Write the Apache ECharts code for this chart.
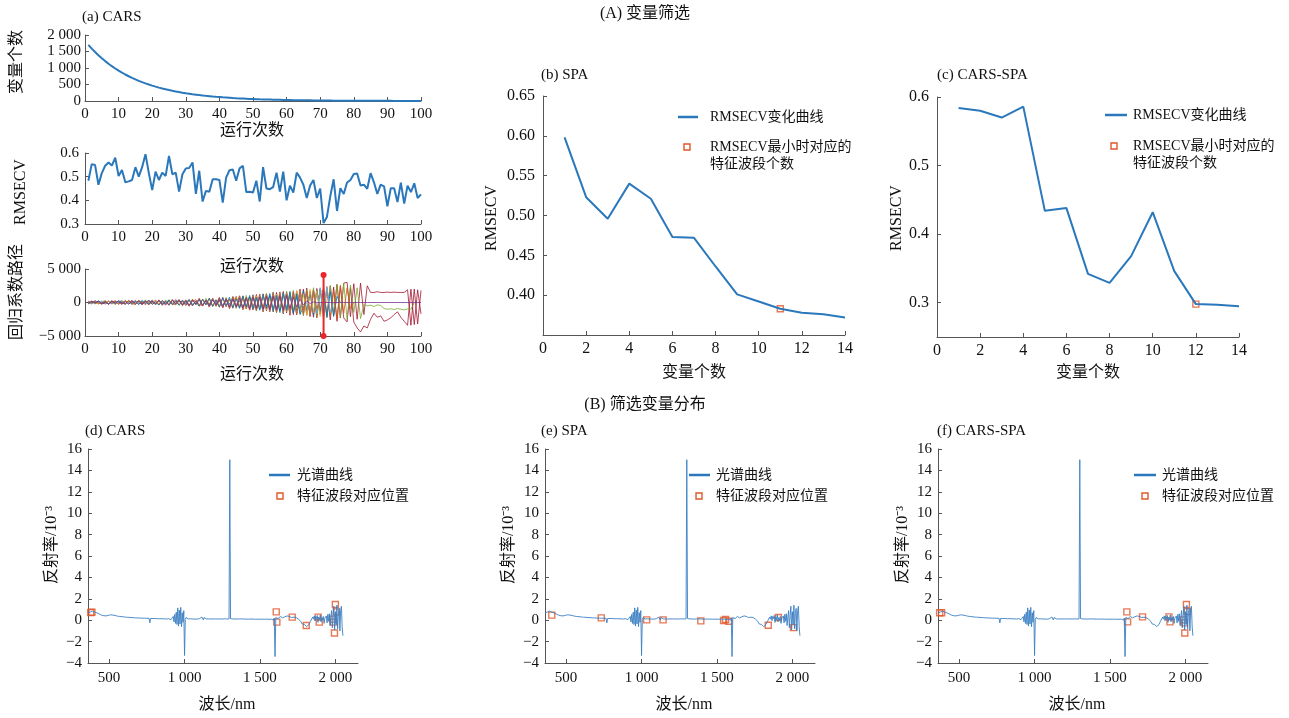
<!DOCTYPE html>
<html><head><meta charset="utf-8">
<script src="https://cdn.jsdelivr.net/npm/echarts@6/dist/echarts.min.js"></script>
<style>html,body{margin:0;padding:0;background:#fff}#c{width:1289px;height:718px}</style>
</head><body><div id="c"></div>
<script>
// ---------- (a) CARS: number of retained variables per run ----------
const runVarCount = [1700,1588,1483,1386,1294,1209,1129,1055,985,920,860,803,750,701,655,611,571,533,498,465,
435,406,379,354,331,309,289,270,252,235,220,205,192,179,167,156,146,136,127,119,
111,104,97,90,84,79,74,69,64,60,56,52,49,46,43,40,37,35,33,30,
28,26,25,23,21,20,19,17,16,15,14,13,12,11,11,10,9,9,8,8,
7,7,6,6,5,5,5,4,4,4,4,3,3,3,3,3,2,2,2,2];

// ---------- (a) CARS: RMSECV per run ----------
const runRmsecv = [0.483,0.553,0.549,0.466,0.515,0.546,0.560,0.547,0.580,0.503,
0.528,0.476,0.480,0.486,0.540,0.500,0.540,0.595,0.515,0.443,
0.521,0.486,0.517,0.503,0.588,0.510,0.517,0.437,0.510,0.535,
0.537,0.560,0.427,0.525,0.395,0.440,0.436,0.489,0.489,0.486,
0.390,0.496,0.527,0.530,0.483,0.535,0.546,0.435,0.436,0.433,
0.483,0.395,0.540,0.450,0.447,0.456,0.517,0.437,0.521,0.400,
0.462,0.433,0.517,0.496,0.466,0.410,0.463,0.486,0.410,0.450,
0.304,0.330,0.417,0.489,0.355,0.451,0.427,0.475,0.486,0.511,
0.513,0.463,0.466,0.449,0.515,0.476,0.427,0.466,0.459,0.375,
0.451,0.451,0.393,0.475,0.386,0.462,0.435,0.472,0.410,0.425];

// ---------- (a) CARS: regression coefficient paths (one array per variable) ----------
const pathA = [120,-80,210,40,-150,-60,180,-220,90,-30,250,-140,60,-260,180,30,-200,260,-90,140,
-240,310,-50,-180,290,-320,120,260,-300,80,350,-280,-60,380,-420,190,-350,460,-160,300,
-480,520,-260,590,-640,210,700,-580,820,-740,560,-900,980,-620,1100,-1050,700,-1250,1300,-900,
1400,-1500,900,-1600,1750,-1200,1500,-1900,1850,-1400,2000,-2200,1600,-2100,900,0];
const pathB = [-90,160,-40,-200,110,230,-170,60,-240,190,-60,280,-210,120,-300,220,-150,40,310,-260,
160,-340,250,-90,380,-200,-330,300,-120,410,-380,150,440,-300,-480,380,-220,520,-560,260,
-620,480,-700,350,760,-820,600,-950,880,-420,-1000,1050,-760,1200,-1150,900,-1350,1420,-1000,1300,
-1600,1250,-1700,1850,-1300,1650,-2000,1500,-1900,2200,-1700,2400,-2200,1800,-2500,2600,-1600,2200,-900,0];
const pathC = [200,-130,60,-210,150,-90,240,-40,-180,120,260,-200,90,-290,170,-60,310,-240,110,-150,
280,-330,200,-70,360,-270,150,-390,310,-200,420,-340,180,-460,390,-250,530,-420,300,-570,
620,-500,380,-700,780,-450,860,-780,520,-950,1000,-820,1150,-1100,700,-1300,1250,-1000,1450,-1350,
1600,-1250,1750,-1650,1300,-1900,2000,-1500,1800,-2100,1200,0];
const pathE = [-150,90,-220,180,-50,260,-190,120,-280,60,-230,300,-120,200,-320,250,-80,330,-270,140,
-360,220,-300,380,-150,420,-350,180,-440,300,-490,380,-250,540,-430,600,-380,650,-560,420,
-700,760,-520,850,-900,640,-980,1050,-700,1150,-1200,880,-1300,1350,-1000,1450,-1500,1200,-1600,1650,
-1400,1800,-1750,1500,-2000,1900,-1600,2200,-2100,1700,1800,-2300,2500,-1800,2700,-2200,2900,-2500,2600,-1500,
2200,-2400,-300,-500,-400,-600,-350,-450,-900,-1000,-950,-1050,-900,-1000,-1100,-950,-1000,0];
const pathF = [60,-240,170,-110,250,-30,-190,210,-140,90,300,-250,40,-310,220,-170,330,-90,-260,280,
-200,370,-330,100,-400,310,-180,440,-360,240,-500,420,-290,560,-470,330,-620,580,-380,680,
-720,540,-800,880,-600,960,-1000,720,-1100,1180,-900,1300,-1250,1000,-1400,1450,-1150,1600,-1550,1300,
-1700,1650,-1400,1850,-1800,1500,-2000,1950,-1700,2150,-2000,2300,-1500,0];
const pathI = [-200,120,-60,230,-170,80,-250,190,-110,270,-40,-220,300,-180,110,-320,240,-130,350,-280,
60,-380,290,-210,410,-340,150,-430,370,-260,460,-410,200,-520,480,-330,600,-560,350,-660,
700,-480,790,-760,560,-880,950,-700,1050,-980,800,-1150,1200,-900,1350,-1300,1050,-1500,1450,-1200,
1650,-1550,1300,-1800,-600,0];
const pathJ = [140,-180,230,-70,-210,160,-260,70,200,-290,120,-240,310,-150,-280,340,-100,270,-350,180,
-300,400,-250,130,-420,360,-190,450,-400,210,-520,480,-300,570,-540,350,-650,620,-420,720,
-780,600,-860,900,-640,980,-1020,760,-1120,1080,-880,1250,-1200,950,-1400,1380,-1100,1550,-1500,1250,
-1700,1650,-1350,1850,-1800,1550,-2000,1900,-900,0];
const pathG = [180,-100,250,-160,70,-230,200,-60,260,-190,90,-280,240,-130,310,-220,150,-330,270,-80,
360,-290,180,-400,330,-170,430,-370,220,-460,380,-510,260,-560,500,-330,640,-580,420,-700,
760,-640,500,-850,900,-700,1000,-950,720,-1100,1200,-1000,1300,-1250,950,-1400,1500,-1200,1650,-1550,
1300,-1800,1750,-1500,2000,-1900,1700,-2200,2100,-1800,2300,-2000,2500,-1900,2700,-2300,2900,3000,-2100,2800,
-2500,2900,-1800,2500,1500,1500,1600,1500,1500,1550,1500,1550,1500,1500,1500,1900,-3400,2000,-3200,1800];
const pathH = [-160,220,-90,170,-250,60,-210,280,-140,100,-300,230,-70,330,-260,140,-350,200,-110,370,
-310,260,-420,160,-380,450,-240,350,-480,300,-560,420,-330,600,-520,380,-680,560,-450,740,
-800,620,-900,820,-680,1000,-1050,760,-1150,1100,-1250,950,-1400,1300,-1100,1550,-1500,1250,-1700,1600,
-1900,1500,-1850,2000,-1600,2150,-2100,1800,-2300,2000,-2400,2100,-2600,2300,-2800,2400,-2300,-2900,2200,-2900,
-3800,-4400,-3500,-3800,-2500,-1600,-2200,-2000,-2800,-2600,-2300,-1800,-1400,-2200,-2800,-3400,2000,-3300,1900,-1700];
const pathD = [-110,150,-60,190,-140,80,-210,160,-90,230,-170,120,-250,190,-60,270,-200,140,-290,220,
-120,310,-260,180,-340,280,-150,360,-310,230,-400,330,-220,450,-380,300,-500,420,-350,550,
-600,480,-680,540,-720,620,-800,700,-880,760,-900,820,-1000,880,-1050,950,-1100,1000,-1150,1050,
-900,800,-650,500,-350,250,-150,80,-30,10,-5,0,0,0,0,0,0,0,0,0,
0,0,0,0,0,0,0,0,0,0,0,0,0,0,0,0,0,0,0,0];
const coefPaths = [
  {data: pathG, color: '#A2142F'}, {data: pathH, color: '#A2142F'}, {data: pathE, color: '#77AC30'},
  {data: pathA, color: '#0072BD'}, {data: pathB, color: '#D95319'}, {data: pathC, color: '#EDB120'},
  {data: pathF, color: '#4DBEEE'}, {data: pathI, color: '#0072BD'}, {data: pathJ, color: '#D95319'},
  {data: pathD, color: '#7E2F8E'}
];
const bestRun = 71;
const bestRunSpan = [4100, -5000];

// ---------- (b) SPA / (c) CARS-SPA: RMSECV vs number of variables ----------
const nVars = [1,2,3,4,5,6,7,8,9,10,11,12,13,14];
const spaRmsecv = [0.598,0.523,0.496,0.540,0.521,0.473,0.472,0.436,0.401,0.392,0.383,0.378,0.376,0.372];
const csRmsecv  = [0.584,0.580,0.570,0.586,0.434,0.438,0.342,0.329,0.368,0.432,0.346,0.298,0.297,0.295];
const spaBest = 11;
const csBest = 12;

// ---------- (d)(e)(f) reflectance spectrum, 360–2050 nm every 5 nm (unit 10^-3) ----------
const WL_START = 360, WL_STEP = 5;
const spectrum = [
0.70,0.74,0.69,0.76,0.72,0.80,0.85,0.78,0.83,0.76,
0.74,0.70,0.68,0.63,0.60,0.58,0.55,0.50,0.47,0.45,
0.43,0.42,0.44,0.41,0.40,0.42,0.43,0.45,0.46,0.48,
0.50,0.49,0.50,0.48,0.47,0.45,0.44,0.42,0.40,0.38,
0.37,0.36,0.35,0.34,0.33,0.33,0.32,0.31,0.30,0.30,
0.29,0.28,0.28,0.27,0.27,0.26,0.26,0.25,0.25,0.24,
0.24,0.23,0.23,0.22,0.22,0.22,0.21,0.21,0.21,0.20,
0.20,0.20,0.19,0.20,0.19,0.19,0.18,0.19,0.18,0.18,
0.17,0.18,-0.25,0.16,0.17,0.17,0.16,0.16,0.15,0.16,
0.15,0.15,0.14,0.15,0.14,0.14,0.13,0.14,0.13,0.13,
0.12,0.13,0.12,0.12,0.11,0.13,0.10,0.14,0.08,0.18,
0.05,0.22,-0.05,0.35,-0.15,0.55,-0.30,0.75,-0.40,1.15,
-0.55,0.95,-0.35,1.20,-0.60,0.70,-0.20,0.90,-3.30,0.05,
0.25,0.10,0.15,0.12,0.14,0.11,0.13,0.12,0.13,0.11,
0.12,0.13,0.11,0.12,0.14,0.10,0.13,0.12,0.15,0.20,
0.05,0.30,0.45,0.02,0.25,0.10,0.14,0.12,0.13,0.11,
0.12,0.13,0.12,0.11,0.13,0.12,0.12,0.11,0.13,0.12,
0.13,0.12,0.11,0.12,0.13,0.12,0.12,0.13,0.11,0.12,
0.12,0.13,0.12,0.12,0.11,0.13,0.12,0.12,15.0,0.15,
0.12,0.11,0.12,0.13,0.12,0.11,0.12,0.12,0.11,0.12,
0.11,0.12,0.12,0.11,0.12,0.10,0.12,0.11,0.11,0.12,
0.10,0.11,0.12,0.10,0.11,0.10,0.11,0.10,0.11,0.10,
0.10,0.11,0.09,0.10,0.11,0.10,0.09,0.10,0.09,0.10,
0.09,0.10,0.08,0.10,0.09,0.08,0.09,0.10,0.08,0.09,
0.08,0.09,0.06,0.10,0.05,0.12,0.00,0.20,-3.40,0.25,
0.10,0.30,0.15,0.25,0.20,0.35,0.18,0.30,0.22,0.38,
0.20,0.32,0.25,0.28,0.40,0.22,0.30,0.35,0.20,0.30,
0.25,0.32,0.18,0.28,0.30,0.22,0.25,0.15,0.20,0.10,
0.05,0.00,-0.10,-0.20,-0.35,-0.30,-0.45,-0.40,-0.55,-0.50,
-0.60,-0.45,-0.55,-0.40,-0.30,-0.10,0.05,-0.15,0.30,0.10,
0.40,-0.05,0.35,0.15,0.45,-0.20,0.30,0.05,0.50,-0.15,
0.25,0.00,0.35,-0.30,0.20,0.10,0.40,-0.25,0.55,-0.10,
0.60,-0.50,0.30,0.90,-0.70,0.45,1.30,-0.90,0.80,-0.40,
1.40,-0.80,0.60,1.10,-1.00,0.90,1.30,-0.60,-1.45];

// selected wavelengths (nm) and their reflectance for each method
const carsWl  = [378,386,1608,1612,1714,1807,1886,1893,1983,1987,1994,2000,2007];
const carsRef = [0.72,0.75,0.78,-0.18,0.29,-0.50,0.29,-0.18,0.10,-0.18,-1.20,1.47,0.78];
const spaWl   = [405,733,1034,1143,1393,1544,1557,1579,1840,1907,2007];
const spaRef  = [0.47,0.22,0.03,0.03,-0.06,-0.03,0.06,-0.10,-0.47,0.25,-0.69];
const csWl    = [371,384,1612,1617,1716,1891,1898,1987,1993,1996,2007,2013];
const csRef   = [0.69,0.69,0.78,-0.16,0.31,0.31,-0.16,0.03,-0.25,-1.19,1.47,0.81];
const wlTicks = [500,1000,1500,2000];

// ---------- styling ----------
const FONT = "'Liberation Serif','Noto Sans CJK SC',serif";
const AXIS_COLOR = '#555';
const TEXT_COLOR = '#111';
const LINE_BLUE = '#2a78bb';
const MARK_RED = '#e0572b';

function spaced(v) {
  const a = Math.abs(Math.round(v));
  const s = String(a).replace(/\B(?=(\d{3})+(?!\d))/g, ' ');
  return (v < 0 ? '\u2212' : '') + s;
}
function minusFmt(v) { return (v < 0 ? '\u2212' : '') + Math.abs(v); }

function axisBase(extra, fontSize) {
  return Object.assign({
    type: 'value',
    axisLine: {show: true, onZero: false, lineStyle: {color: AXIS_COLOR, width: 1}},
    axisTick: {show: true, inside: true, length: 4, lineStyle: {color: AXIS_COLOR}},
    splitLine: {show: false},
    axisLabel: {color: TEXT_COLOR, fontFamily: FONT, fontSize: fontSize || 15, margin: 6}
  }, extra);
}

const grids = [
  {left: 85, top: 35, width: 336, height: 66},    // a-top
  {left: 85, top: 153, width: 336, height: 71},   // a-mid
  {left: 85, top: 269, width: 336, height: 67},   // a-bottom
  {left: 543, top: 96, width: 302, height: 239},  // b
  {left: 937, top: 97, width: 302, height: 240},  // c
  {left: 88, top: 449, width: 270, height: 214},  // d
  {left: 545, top: 449, width: 270, height: 214}, // e
  {left: 938, top: 449, width: 270, height: 214}  // f
];

const runX = (g) => axisBase({gridIndex: g, min: 0, max: 100, interval: 10}, 15);
const nX = (g) => axisBase({gridIndex: g, min: 0, max: 14, interval: 2}, 16);
const wlX = (g) => {
  const ax = axisBase({gridIndex: g, min: 360, max: 2150}, 15);
  ax.axisLabel.customValues = wlTicks;
  ax.axisLabel.formatter = spaced;
  ax.axisLabel.margin = 8;
  ax.axisTick.customValues = wlTicks;
  return ax;
};
const reflY = (g) => {
  const ax = axisBase({gridIndex: g, min: -4, max: 16, interval: 2}, 15);
  ax.axisLabel.formatter = minusFmt;
  return ax;
};

const xAxes = [runX(0), runX(1), runX(2), nX(3), nX(4), wlX(5), wlX(6), wlX(7)];
const yAxes = [
  (() => { const a = axisBase({gridIndex: 0, min: 0, max: 2000, interval: 500}, 15); a.axisLabel.formatter = spaced; a.axisLabel.margin = 4; return a; })(),
  (() => { const a = axisBase({gridIndex: 1, min: 0.3, max: 0.6, interval: 0.1}, 15); a.axisLabel.formatter = v => v.toFixed(1); return a; })(),
  (() => { const a = axisBase({gridIndex: 2, min: -5000, max: 5000, interval: 5000}, 15); a.axisLabel.formatter = spaced; a.axisLabel.margin = 4; return a; })(),
  (() => { const a = axisBase({gridIndex: 3, min: 0.35, max: 0.65, interval: 0.05}, 16); a.axisLabel.formatter = v => Math.abs(v - 0.35) < 1e-6 ? '' : v.toFixed(2); a.axisLabel.margin = 8; return a; })(),
  (() => { const a = axisBase({gridIndex: 4, min: 0.25, max: 0.6}, 16); const t = [0.3, 0.4, 0.5, 0.6]; a.axisLabel.customValues = t; a.axisTick.customValues = t; a.axisLabel.formatter = v => v.toFixed(1); a.axisLabel.margin = 8; return a; })(),
  reflY(5), reflY(6), reflY(7)
];

const series = [];
function line(g, data, color, width, extra) {
  series.push(Object.assign({
    type: 'line', xAxisIndex: g, yAxisIndex: g, data: data,
    showSymbol: false, symbol: 'none', animation: false, silent: true,
    lineStyle: {color: color, width: width}, itemStyle: {color: color}
  }, extra || {}));
}
function squares(g, data) {
  series.push({
    type: 'scatter', xAxisIndex: g, yAxisIndex: g, data: data, symbol: 'rect', symbolSize: 6,
    animation: false, silent: true,
    itemStyle: {color: 'rgba(255,255,255,0)', borderColor: MARK_RED, borderWidth: 1.4}
  });
}

// (a)
line(0, runVarCount.map((v, i) => [i + 1, v]), LINE_BLUE, 2);
line(1, runRmsecv.map((v, i) => [i + 1, v]), LINE_BLUE, 2);
coefPaths.forEach(p => line(2, p.data.map((v, i) => [i + 1, v]), p.color, 0.8));
line(2, bestRunSpan.map(v => [bestRun, v]), '#e8262b', 2,
  {showSymbol: true, symbol: 'circle', symbolSize: 6});
// (b)(c)
line(3, nVars.map((n, i) => [n, spaRmsecv[i]]), LINE_BLUE, 2);
squares(3, [[spaBest, spaRmsecv[nVars.indexOf(spaBest)]]]);
line(4, nVars.map((n, i) => [n, csRmsecv[i]]), LINE_BLUE, 2);
squares(4, [[csBest, csRmsecv[nVars.indexOf(csBest)]]]);
// (d)(e)(f)
const specData = spectrum.map((v, i) => [WL_START + i * WL_STEP, v]);
[[5, carsWl, carsRef], [6, spaWl, spaRef], [7, csWl, csRef]].forEach(([g, wl, rf]) => {
  line(g, specData, '#3a7fc3', 0.9);
  squares(g, wl.map((w, i) => [w, rf[i]]));
});

// ---------- text and legends ----------
const graphic = [];
function text(x, y, s, size, opts) {
  graphic.push(Object.assign({
    type: 'text', x: x, y: y, silent: true,
    style: Object.assign({text: s, fill: TEXT_COLOR, fontFamily: FONT, fontSize: size,
      align: 'left', verticalAlign: 'middle'}, (opts && opts.style) || {})
  }, opts && opts.rotation ? {rotation: opts.rotation} : {}));
}
const vert = {rotation: Math.PI / 2, style: {align: 'center'}};
const ctr = {style: {align: 'center'}};

text(645, 14, '(A) 变量筛选', 16, ctr);
text(645, 405, '(B) 筛选变量分布', 16, ctr);

text(82, 17, '(a) CARS', 15);
text(541, 75, '(b) SPA', 15);
text(937, 75, '(c) CARS-SPA', 15);
text(85, 431, '(d) CARS', 15);
text(541, 431, '(e) SPA', 15);
text(937, 431, '(f) CARS-SPA', 15);

text(17, 62, '变量个数', 16, vert);
text(21, 192, 'RMSECV', 16, vert);
text(17, 292, '回归系数路径', 16, vert);
text(252, 131, '运行次数', 16, ctr);
text(252, 267, '运行次数', 16, ctr);
text(252, 375, '运行次数', 16, ctr);

text(492, 218, 'RMSECV', 16, vert);
text(897, 218, 'RMSECV', 16, vert);
text(694, 373, '变量个数', 16, ctr);
text(1088, 373, '变量个数', 16, ctr);

[[52, 227], [509, 684], [903, 1077]].forEach(([yx, xx]) => {
  text(yx, 545, '反射率/10⁻³', 16, vert);
  text(xx, 705, '波长/nm', 16, ctr);
});

function legendLine(x1, x2, y) {
  graphic.push({type: 'line', silent: true, shape: {x1: x1, y1: y, x2: x2, y2: y},
    style: {stroke: LINE_BLUE, lineWidth: 2.5}});
}
function legendSquare(cx, cy) {
  graphic.push({type: 'rect', silent: true, shape: {x: cx - 3, y: cy - 3, width: 6, height: 6},
    style: {fill: 'rgba(255,255,255,0)', stroke: MARK_RED, lineWidth: 1.4}});
}
// (b)(c)
[[678, 698, 710, 117, 687, 147], [1105, 1127, 1133, 115, 1114, 146]].forEach(([l1, l2, tx, ly, sx, sy]) => {
  legendLine(l1, l2, ly);
  text(tx, ly, 'RMSECV变化曲线', 14);
  legendSquare(sx, sy);
  text(tx, sy, 'RMSECV最小时对应的', 14);
  text(tx, sy + 17, '特征波段个数', 14);
});
// (d)(e)(f)
[[269, 290, 297, 280], [689, 710, 716, 699], [1134, 1156, 1162, 1145]].forEach(([l1, l2, tx, sx]) => {
  legendLine(l1, l2, 475);
  text(tx, 475, '光谱曲线', 14);
  legendSquare(sx, 496);
  text(tx, 496, '特征波段对应位置', 14);
});

const chart = echarts.init(document.getElementById('c'), null, {renderer: 'canvas'});
chart.setOption({
  backgroundColor: '#fff',
  animation: false,
  grid: grids,
  xAxis: xAxes,
  yAxis: yAxes,
  series: series,
  graphic: graphic
});
</script></body></html>
